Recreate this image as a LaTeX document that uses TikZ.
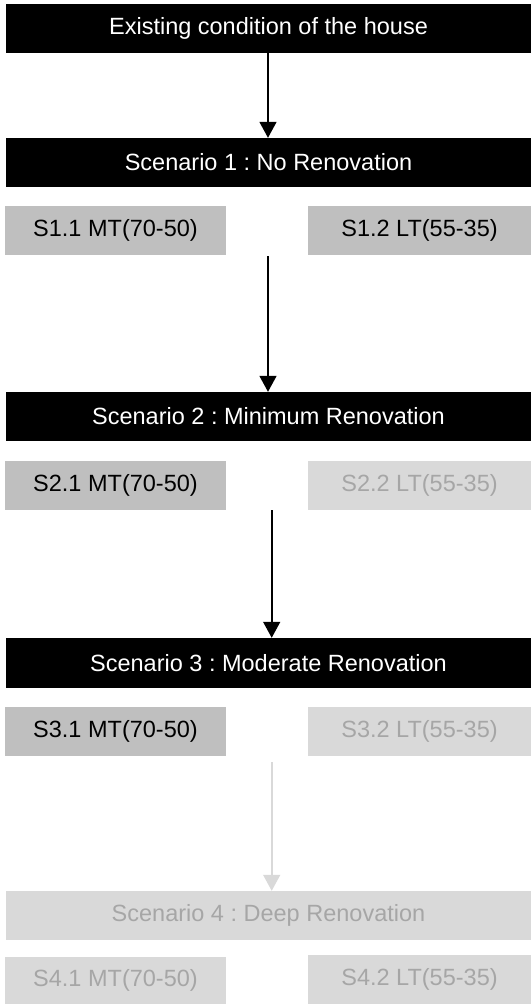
\documentclass[tikz,border=0pt]{standalone}
\usepackage{fontspec}
\setmainfont{Liberation Sans}
\usetikzlibrary{arrows.meta}
\definecolor{midgray}{HTML}{BFBFBF}
\definecolor{lightgray}{HTML}{D9D9D9}
\definecolor{fadetext}{HTML}{A6A6A6}
\frenchspacing
\begin{document}
\begin{tikzpicture}[x=1pt,y=-1pt,
  box/.style={rectangle, inner sep=0pt, font=\fontsize{23.5}{27}\selectfont},
  blackbox/.style={box, fill=black, text=white, minimum width=525pt, minimum height=49pt},
  fadebig/.style={box, fill=lightgray, text=fadetext, minimum width=525pt, minimum height=49pt},
  subbox/.style={box, fill=midgray, text=black, minimum height=49pt},
  fadebox/.style={box, fill=lightgray, text=fadetext, minimum height=49pt},
  flow/.style={line width=1.6pt, -{Triangle[length=16pt,width=17pt]}},
  fadeflow/.style={flow, draw=lightgray}]
\useasboundingbox (0,0) rectangle (531,1004);
\node[blackbox] (top) at (268.5,28.5) {Existing condition of the house};
\node[blackbox] (s1) at (268.5,162.5) {Scenario 1 : No Renovation};
\node[subbox, minimum width=221pt] (s11) at (115.5,230.5) {S1.1 MT(70-50)};
\node[subbox, minimum width=223pt] (s12) at (419.5,230.5) {S1.2 LT(55-35)};
\node[blackbox] (s2) at (268.5,416.5) {Scenario 2 : Minimum Renovation};
\node[subbox, minimum width=221pt] (s21) at (115.5,485.5) {S2.1 MT(70-50)};
\node[fadebox, minimum width=223pt] (s22) at (419.5,485.5) {S2.2 LT(55-35)};
\node[blackbox, minimum height=50pt] (s3) at (268.5,663) {Scenario 3 : Moderate Renovation};
\node[subbox, minimum width=221pt] (s31) at (115.5,731.5) {S3.1 MT(70-50)};
\node[fadebox, minimum width=223pt] (s32) at (419.5,731.5) {S3.2 LT(55-35)};
\node[fadebig] (s4) at (268.5,915.5) {Scenario 4 : Deep Renovation};
\node[fadebox, minimum width=221pt, minimum height=47pt] (s41) at (115.5,980.5) {S4.1 MT(70-50)};
\node[fadebox, minimum width=223pt] (s42) at (419.5,979.5) {S4.2 LT(55-35)};
\coordinate (a2) at (268,256);
\coordinate (a3) at (271.7,510);
\coordinate (a4) at (271.7,762);
\draw[flow] (top.south -| 268,0) -- (s1.north -| 268,0);
\draw[flow] (a2) -- (s2.north -| a2);
\draw[flow] (a3) -- (s3.north -| a3);
\draw[fadeflow] (a4) -- (s4.north -| a4);
\end{tikzpicture}
\end{document}
